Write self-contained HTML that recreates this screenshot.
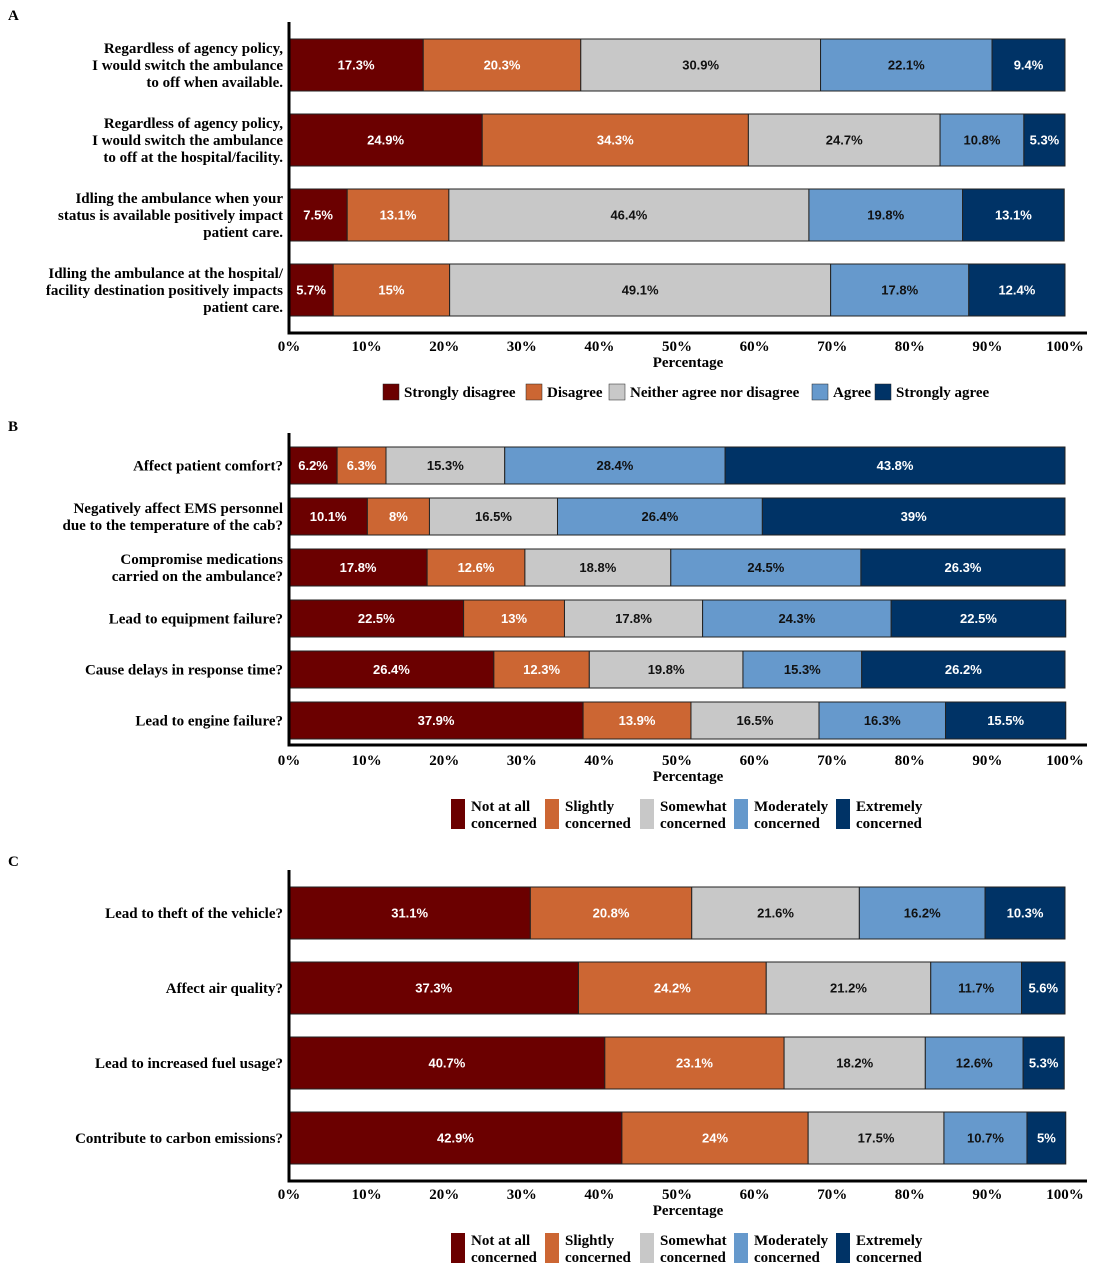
<!DOCTYPE html>
<html><head><meta charset="utf-8">
<style>
html,body{margin:0;padding:0;background:#fff;}
svg{display:block;}
text{font-family:"Liberation Serif",serif;font-weight:bold;}
.bl{font-family:"Liberation Sans",sans-serif;font-size:13px;font-weight:bold;}
</style></head>
<body>
<svg id="chart" width="1093" height="1270" xmlns="http://www.w3.org/2000/svg"></svg>
<script>
const colors=["#6b0000","#cc6633","#c8c8c8","#6699cc","#003366"];
const textColors=["#fff","#fff","#111","#111","#fff"];
const ticks=["0%","10%","20%","30%","40%","50%","60%","70%","80%","90%","100%"];
const tickVals=[0,10,20,30,40,50,60,70,80,90,100];

const catsA=[["Regardless of agency policy,","I would switch the ambulance","to off when available."],["Regardless of agency policy,","I would switch the ambulance","to off at the hospital/facility."],["Idling the ambulance when your","status is available positively impact","patient care."],["Idling the ambulance at the hospital/","facility destination positively impacts","patient care."]];
const valsA=[[17.3,20.3,30.9,22.1,9.4],[24.9,34.3,24.7,10.8,5.3],[7.5,13.1,46.4,19.8,13.1],[5.7,15,49.1,17.8,12.4]];
const legendA=["Strongly disagree","Disagree","Neither agree nor disagree","Agree","Strongly agree"];

const catsB=[["Affect patient comfort?"],["Negatively affect EMS personnel","due to the temperature of the cab?"],["Compromise medications","carried on the ambulance?"],["Lead to equipment failure?"],["Cause delays in response time?"],["Lead to engine failure?"]];
const valsB=[[6.2,6.3,15.3,28.4,43.8],[10.1,8,16.5,26.4,39],[17.8,12.6,18.8,24.5,26.3],[22.5,13,17.8,24.3,22.5],[26.4,12.3,19.8,15.3,26.2],[37.9,13.9,16.5,16.3,15.5]];

const catsC=[["Lead to theft of the vehicle?"],["Affect air quality?"],["Lead to increased fuel usage?"],["Contribute to carbon emissions?"]];
const valsC=[[31.1,20.8,21.6,16.2,10.3],[37.3,24.2,21.2,11.7,5.6],[40.7,23.1,18.2,12.6,5.3],[42.9,24,17.5,10.7,5]];
const legendConc=[["Not at all","concerned"],["Slightly","concerned"],["Somewhat","concerned"],["Moderately","concerned"],["Extremely","concerned"]];

const svg=document.getElementById('chart');
const NS="http://www.w3.org/2000/svg";
function mk(tag,attrs,txt){const e=document.createElementNS(NS,tag);for(const k in attrs)e.setAttribute(k,attrs[k]);if(txt!==undefined)e.textContent=txt;svg.appendChild(e);return e;}
const X0=289,X1=1065;
function xs(v){return X0+(X1-X0)*v/100;}

function panel(letter,letterY,cats,vals,axTop,axBot,firstY,step,barH,tickY,key){
  const l=mk('text',{x:8,y:letterY,'font-size':15},letter);
  
  
  cats.forEach((lines,i)=>{
    const yc=firstY+i*step;
    let cum=0;
    vals[i].forEach((v,j)=>{
      const r=mk('rect',{x:xs(cum),y:yc-barH/2,width:xs(cum+v)-xs(cum),height:barH,fill:colors[j],stroke:'#222','stroke-width':1});
      
      
      const t=mk('text',{x:(xs(cum)+xs(cum+v))/2,y:yc+4.5,'text-anchor':'middle',fill:textColors[j],class:'bl'},v+'%');
      
      
      cum+=v;
    });
    const n=lines.length,lh=17;
    lines.forEach((s,k)=>{
      const t=mk('text',{x:283,y:yc+5+(k-(n-1)/2)*lh,'text-anchor':'end','font-size':15},s);
      
      
    });
  });
  const ax=mk('path',{d:`M${X0} ${axTop} V${axBot} H${X1+22}`,fill:'none',stroke:'#000','stroke-width':3});
  
  
  tickVals.forEach((v,i)=>{
    const t=mk('text',{x:xs(v),y:tickY,'text-anchor':'middle','font-size':15},ticks[i]);
    
    
  });
  const xt=mk('text',{x:688,y:tickY+16,'text-anchor':'middle','font-size':15},'Percentage');
  
  
}

panel('A',20,catsA,valsA,22,333,65,75,52,351,'a');
panel('B',431,catsB,valsB,433,745,465.5,51,37,765,'b');
panel('C',866,catsC,valsC,870,1181,913,75,52,1199,'c');

// legend A
const lxA=[383,526,609,812,875];
legendA.forEach((s,j)=>{
  const r=mk('rect',{x:lxA[j],y:384,width:16,height:16,fill:colors[j],stroke:'#222','stroke-width':0.5});
  
  
  const t=mk('text',{x:lxA[j]+21,y:397,'font-size':15},s);
  
  
});
// concern legends
const lxC=[451,545,640,734,836];
[799,1233].forEach(ly=>{
  legendConc.forEach((p,j)=>{
    const r=mk('rect',{x:lxC[j],y:ly,width:14,height:30,fill:colors[j]});
    
    
    p.forEach((s,k)=>{
      const t=mk('text',{x:lxC[j]+20,y:ly+12+k*17,'font-size':15},s);
      
      
    });
  });
});
</script>
</body></html>
